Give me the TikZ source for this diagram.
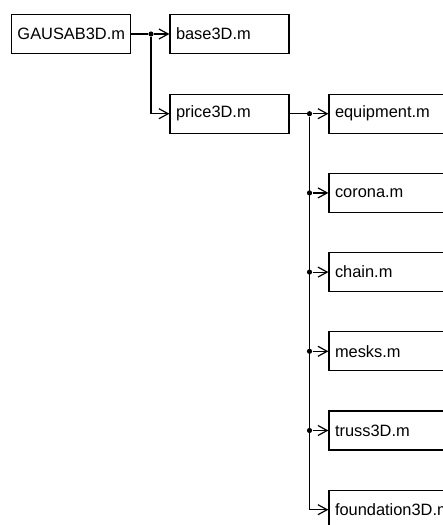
\documentclass[tikz,border=0pt]{standalone}
\usepackage{fontspec}
\setmainfont{Liberation Sans}
\usetikzlibrary{arrows.meta}
\hyphenpenalty=10000
\tikzset{
    box/.style={draw, line width=0.6pt, minimum width=59.5pt, minimum height=19.5pt,
                inner xsep=3pt, inner ysep=0pt, text width=53.5pt, align=left,
                font=\fontsize{8.2}{10}\selectfont},
    wire/.style={line width=0.6pt},
    flow/.style={wire, -{Straight Barb[length=4.6pt,width=5pt,line width=0.6pt]}},
    dot/.style={circle, fill, inner sep=0pt, minimum size=2.6pt},
}

\begin{document}
\begin{tikzpicture}[x=0.5pt, y=-0.5pt]
    \useasboundingbox (0,0) rectangle (443,525);
    \clip (0,0) rectangle (443,525);

    \node[box] (gausab) at (71,34) {GAUSAB3D.m};
    \node[box] (base) at (229.5,34) {base3D.m};
    \node[box] (price) at (229.5,113.7) {price3D.m};
    \node[dot] (split) at (151,34) {};
    \draw[wire] (gausab) -- (split);
    \draw[flow] (split) -- (base);
    \draw[flow] (split) |- (price);

    \node[box] (equipment) at (388.5,113.7) {equipment.m};
    \node[box] (corona) at (388.5,192.9) {corona.m};
    \node[box] (chain) at (388.5,272.1) {chain.m};
    \node[box] (mesks) at (388.5,351.3) {mesks.m};
    \node[box] (truss) at (388.5,430.5) {truss3D.m};
    \node[box] (foundation) at (388.5,509.7) {foundation3D.m};

    \node[dot] (t1) at (309.5,113.7) {};
    \node[dot] (t2) at (309.5,192.9) {};
    \node[dot] (t3) at (309.5,272.1) {};
    \node[dot] (t4) at (309.5,351.3) {};
    \node[dot] (t5) at (309.5,430.5) {};
    \draw[wire] (price) -- (t1);
    \draw[flow] (t1) -- (equipment);
    \draw[flow] (t2) -- (corona);
    \draw[flow] (t3) -- (chain);
    \draw[flow] (t4) -- (mesks);
    \draw[flow] (t5) -- (truss);
    \draw[flow] (t1) |- (foundation);
\end{tikzpicture}
\end{document}
